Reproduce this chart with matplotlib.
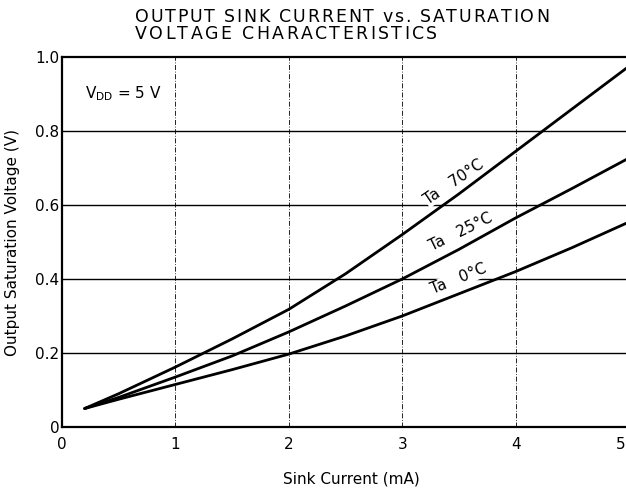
import matplotlib
matplotlib.use("Agg")
import matplotlib.pyplot as plt
from matplotlib.transforms import IdentityTransform, ScaledTranslation

plt.rcParams['font.family'] = ['DejaVu Sans']

current = [0.2, 0.5, 1.0, 1.5, 2.0, 2.5, 3.0, 3.5, 4.0, 4.5, 5.0]
v_70 = [0.05, 0.09, 0.162, 0.238, 0.318, 0.414, 0.52, 0.63, 0.745, 0.86, 0.975]
v_25 = [0.05, 0.08, 0.135, 0.192, 0.257, 0.327, 0.40, 0.48, 0.565, 0.645, 0.727]
v_0 = [0.05, 0.075, 0.115, 0.155, 0.197, 0.246, 0.30, 0.36, 0.42, 0.485, 0.554]

xticks = [0, 1, 2, 3, 4, 5]
xticklabels = ['0', '1', '2', '3', '4', '5']
yticks = [0, 0.2, 0.4, 0.6, 0.8, 1.0]
yticklabels = ['0', '0.2', '0.4', '0.6', '0.8', '1.0']

title_lines = ['OUTPUT SINK CURRENT vs. SATURATION', 'VOLTAGE CHARACTERISTICS']

W, H = 626, 493
fig = plt.figure(figsize=(W / 100, H / 100), dpi=100)
ax = fig.add_axes([62 / W, 1 - 427 / H, 567 / W, 370 / H])
ax.set_xlim(0, 5)
ax.set_ylim(0, 1.0)

for y in [0.2, 0.4, 0.6, 0.8]:
    ax.axhline(y, color='black', lw=1.0, zorder=1)
for x in [1, 2, 3, 4]:
    ax.axvline(x, color='black', lw=0.6, ls=(0, (6, 2, 1, 2)), zorder=1)

for v in (v_70, v_25, v_0):
    ax.plot(current, v, color='black', lw=2.0, zorder=3, solid_capstyle='round',
            solid_joinstyle='round')

tk = dict(fontsize=11, color='black', ha='center', va='center', zorder=2,
          bbox=dict(facecolor='white', edgecolor='none', pad=0.3))
ax.text(3.46, 0.662, 'Ta   70°C', rotation=34, **tk)
ax.text(3.52, 0.527, 'Ta   25°C', rotation=26, **tk)
ax.text(3.50, 0.400, 'Ta   0°C', rotation=22, **tk)

ax.text(0.2, 0.9, r'$\mathregular{V_{DD}}$ = 5 V', fontsize=11, ha='left', va='center')

ax.set_xticks(xticks)
ax.set_xticklabels(xticklabels, fontsize=11)
ax.set_yticks(yticks)
ax.set_yticklabels(yticklabels, fontsize=11)
ax.tick_params(axis='x', length=0, pad=7)
ax.tick_params(axis='y', length=0, pad=2)
last = ax.get_xticklabels()[-1]
last.set_transform(last.get_transform() + ScaledTranslation(-6 / 72, 0, fig.dpi_scale_trans))
for s in ax.spines.values():
    s.set_linewidth(1.6)

ax.set_xlabel('Sink Current (mA)', fontsize=11)
ax.xaxis.set_label_coords((351 - 62) / 567, (427 - 471) / 370)
ax.set_ylabel('Output Saturation Voltage (V)', fontsize=11)
ax.yaxis.set_label_coords((20 - 62) / 567, 0.5)

# letter-spaced title
renderer = fig.canvas.get_renderer()


def char_width(ch, fs):
    if ch == ' ':
        t1 = fig.text(0, 0, 'I I', fontsize=fs)
        t2 = fig.text(0, 0, 'II', fontsize=fs)
        w = t1.get_window_extent(renderer).width - t2.get_window_extent(renderer).width
        t1.remove(); t2.remove()
        return w
    t = fig.text(0, 0, ch, fontsize=fs)
    w = t.get_window_extent(renderer).width
    t.remove()
    return w


def spaced_text(s, x0, x1, base_y, fs):
    widths = [char_width(c, fs) for c in s]
    gap = (x1 - x0 - sum(widths)) / (len(s) - 1)
    x = x0
    for c, w in zip(s, widths):
        if c != ' ':
            fig.text(x, H - base_y, c, fontsize=fs, ha='left', va='baseline',
                     transform=IdentityTransform())
        x += w + gap


spaced_text(title_lines[0], 135, 549, 22, 12.5)
spaced_text(title_lines[1], 135, 437, 39, 12.5)

fig.savefig('out.png', dpi=100)
